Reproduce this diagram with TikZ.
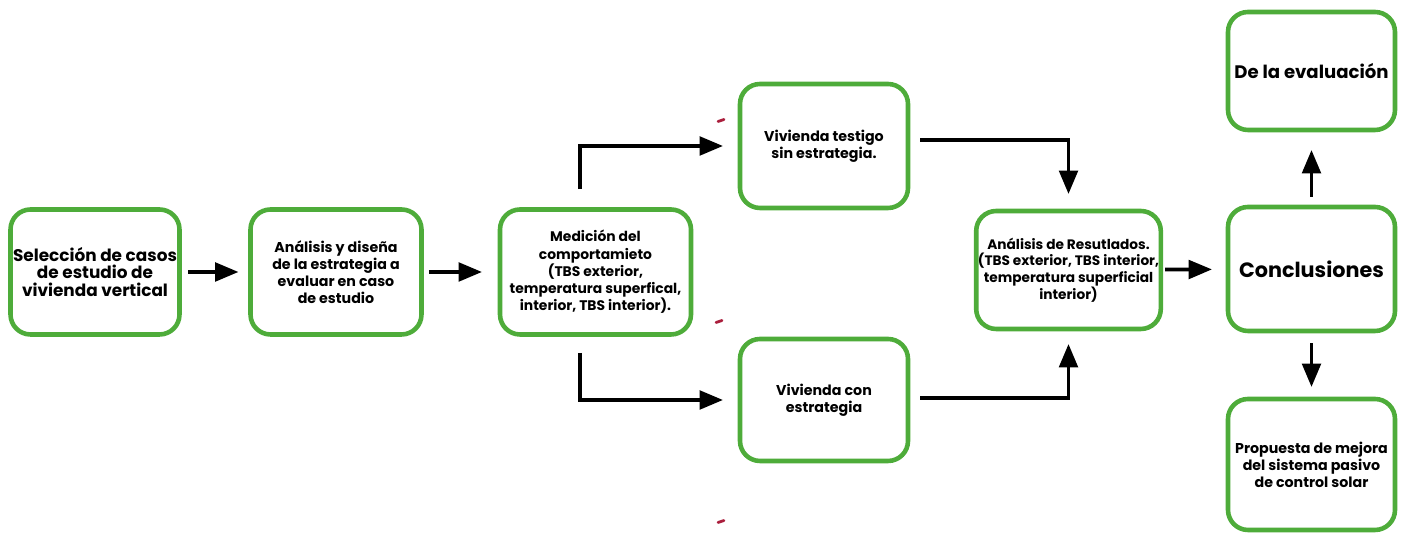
\documentclass[tikz,border=0pt]{standalone}
\usepackage{fontspec}
\setmainfont{Poppins}
\usetikzlibrary{arrows, positioning}

\definecolor{boxgreen}{RGB}{78,172,58}
\definecolor{smudgered}{RGB}{170,30,60}

\tikzset{
  stage/.style={draw=boxgreen, line width=2.6pt, rounded corners=0.4cm, fill=white,
    align=center, inner sep=1pt, font=\bfseries\fontsize{8.1}{9.7}\selectfont},
  flow/.style={line width=2.1pt, -triangle 45},
  smudge/.style={smudgered, line width=1.6pt, line cap=round}
}

\begin{document}
\begin{tikzpicture}
\useasboundingbox (0,0) rectangle (28.22,10.78);

% The stages
\node [stage, minimum width=3.38cm, minimum height=2.5cm,
  font=\bfseries\fontsize{9.6}{9.9}\selectfont] (sel) at (1.90,5.34)
  {Selección de casos\\de estudio de\\vivienda vertical};
\node [stage, minimum width=3.42cm, minimum height=2.5cm] (ana) at (6.72,5.34)
  {Análisis y diseña\\de la estrategia a\\evaluar en caso\\de estudio};
\node [stage, minimum width=3.82cm, minimum height=2.5cm,
  font=\bfseries\fontsize{7.9}{9.8}\selectfont] (med) at (11.91,5.34)
  {Medición del\\comportamieto\\(TBS exterior,\\temperatura superfical,\\interior, TBS interior).};

% The two houses
\node [stage, minimum width=3.36cm, minimum height=2.48cm] (tes) at (16.48,7.86)
  {Vivienda testigo\\sin estrategia.};
\node [stage, minimum width=3.36cm, minimum height=2.44cm] (con) at (16.48,2.78)
  {Vivienda con\\estrategia};

% Results and conclusions
\node [stage, minimum width=3.66cm, minimum height=2.36cm,
  font=\bfseries\fontsize{7.8}{9.4}\selectfont] (res) at (21.37,5.38)
  {Análisis de Resutlados.\\(TBS exterior, TBS interior,\\temperatura superficial\\interior)};
\node [stage, minimum width=3.34cm, minimum height=2.48cm,
  font=\bfseries\fontsize{11.8}{14}\selectfont] (conc) at (26.23,5.40) {Conclusiones};
\node [stage, minimum width=3.34cm, minimum height=2.36cm,
  font=\bfseries\fontsize{10.3}{12}\selectfont] (eval) at (26.23,9.36) {De la evaluación};
\node [stage, minimum width=3.34cm, minimum height=2.62cm] (prop) at (26.23,1.49)
  {Propuesta de mejora\\del sistema pasivo\\de control solar};

% Main flow
\draw [flow, shorten <=0.12cm, shorten >=0.2cm] (sel) -- (ana);
\draw [flow, shorten <=0.1cm, shorten >=0.32cm] (ana) -- (med);

% Branches
\draw [flow, shorten <=0.36cm, shorten >=0.3cm] ([xshift=-0.31cm]med.north) |- (tes.west);
\draw [flow, shorten <=0.32cm, shorten >=0.3cm] ([xshift=-0.31cm]med.south) |- (con.west);
\draw [flow, shorten <=0.2cm, shorten >=0.3cm] ([yshift=0.12cm]tes.east) -| (res.north);
\draw [flow, shorten <=0.2cm, shorten >=0.26cm] ([yshift=0.04cm]con.east) -| (res.south);

% Towards the conclusions
\draw [flow, shorten <=0.04cm, shorten >=0.28cm] (res) -- (conc);
\draw [flow, shorten <=0.16cm, shorten >=0.36cm] (conc) -- (eval);
\draw [flow, shorten <=0.2cm, shorten >=0.2cm] (conc) -- (prop);

% Red marks
\draw [smudge] (14.36,8.35) -- (14.48,8.39);
\draw [smudge] (14.32,4.33) -- (14.44,4.37);
\draw [smudge] (14.36,0.33) -- (14.48,0.37);

\end{tikzpicture}
\end{document}
